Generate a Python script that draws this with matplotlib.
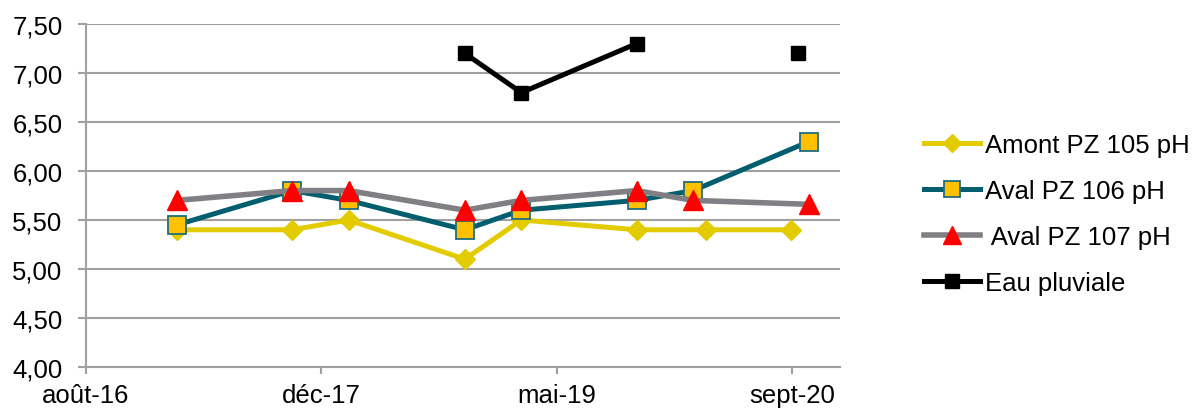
import matplotlib
matplotlib.use("Agg")
import matplotlib.pyplot as plt
import numpy as np
import pandas as pd

plt.rcParams['font.family'] = ['Liberation Sans', 'DejaVu Sans']

# ---- data ----
dates_amont = ['2017-02-19', '2017-10-22', '2018-02-19', '2018-10-24', '2019-02-21',
               '2019-10-24', '2020-03-20', '2020-09-16']
amont_105 = [5.40, 5.40, 5.50, 5.10, 5.50, 5.40, 5.40, 5.40]

dates_aval = ['2017-02-19', '2017-10-22', '2018-02-19', '2018-10-24', '2019-02-21',
              '2019-10-24', '2020-02-21', '2020-10-24']
aval_106 = [5.45, 5.80, 5.70, 5.40, 5.60, 5.70, 5.80, 6.30]
aval_107 = [5.70, 5.80, 5.80, 5.60, 5.70, 5.80, 5.70, 5.66]

dates_pluie = ['2018-10-24', '2019-02-21', '2019-10-24', '2020-02-21', '2020-10-01']
eau_pluviale = [7.20, 6.80, 7.30, np.nan, 7.20]

labels = ['Amont PZ 105 pH', 'Aval PZ 106 pH', ' Aval PZ 107 pH', 'Eau pluviale']

x_tick_dates = ['2016-08-10', '2017-12-23', '2019-05-07', '2020-09-18']
x_tick_labels = ['août-16', 'déc-17', 'mai-19', 'sept-20']
x_min, x_max = '2016-08-10', '2020-12-29'
y_ticks = [4.00, 4.50, 5.00, 5.50, 6.00, 6.50, 7.00, 7.50]

# ---- figure ----
W, H = 1197, 410
fig = plt.figure(figsize=(W / 100, H / 100), dpi=100)
ax = fig.add_axes([86 / W, 1 - 368 / H, (840 - 86) / W, (368 - 25) / H])

d = lambda lst: pd.to_datetime(lst)

ax.plot(d(dates_amont), amont_105, color='#E2CC00', lw=3.6, marker='D', ms=10.5,
        mfc='#E2CC00', mec='#E2CC00', label=labels[0], zorder=3, clip_on=False)
ax.plot(d(dates_aval), aval_106, color='#005E6E', lw=3.6, marker='s', ms=12.5,
        mfc='#FFC000', mec='#1F6E7E', mew=1.3, label=labels[1], zorder=4, clip_on=False)
ax.plot(d(dates_aval), aval_107, color='#808084', lw=4.0, marker='^', ms=14,
        mfc='#FF0000', mec='#FF0000', label=labels[2], zorder=5, clip_on=False)
ax.plot(d(dates_pluie), eau_pluviale, color='#000000', lw=3.6, marker='s', ms=10.5,
        mfc='#000000', mec='#000000', label=labels[3], zorder=6, clip_on=False)

ax.set_xlim(pd.Timestamp(x_min), pd.Timestamp(x_max))
ax.set_ylim(4.0, 7.5)
ax.set_yticks(y_ticks)
ax.set_yticklabels([f"{v:.2f}".replace('.', ',') for v in y_ticks])
ax.set_xticks(d(x_tick_dates))
ax.set_xticklabels(x_tick_labels)

grid_c = '#A0A0A0'
ax.yaxis.grid(True, color=grid_c, lw=1.5, zorder=1)
ax.set_axisbelow(True)
for s in ['top', 'right']:
    ax.spines[s].set_visible(False)
for s in ['left', 'bottom']:
    ax.spines[s].set_color(grid_c)
    ax.spines[s].set_linewidth(1.5)

ax.tick_params(axis='y', length=6, width=1.5, color=grid_c, pad=11, labelsize=18.5,
               labelcolor='#000000')
ax.tick_params(axis='x', length=5, width=1.5, color=grid_c, pad=6.5, labelsize=18.5,
               labelcolor='#000000')

leg = fig.legend(loc='center left', bbox_to_anchor=(924 / W, 1 - 215 / H),
                 frameon=False, fontsize=18.5, handlelength=2.18, handletextpad=0.2,
                 labelspacing=0.85, borderpad=0, borderaxespad=0, markerscale=0.9)

fig.savefig('out.png', dpi=100)
